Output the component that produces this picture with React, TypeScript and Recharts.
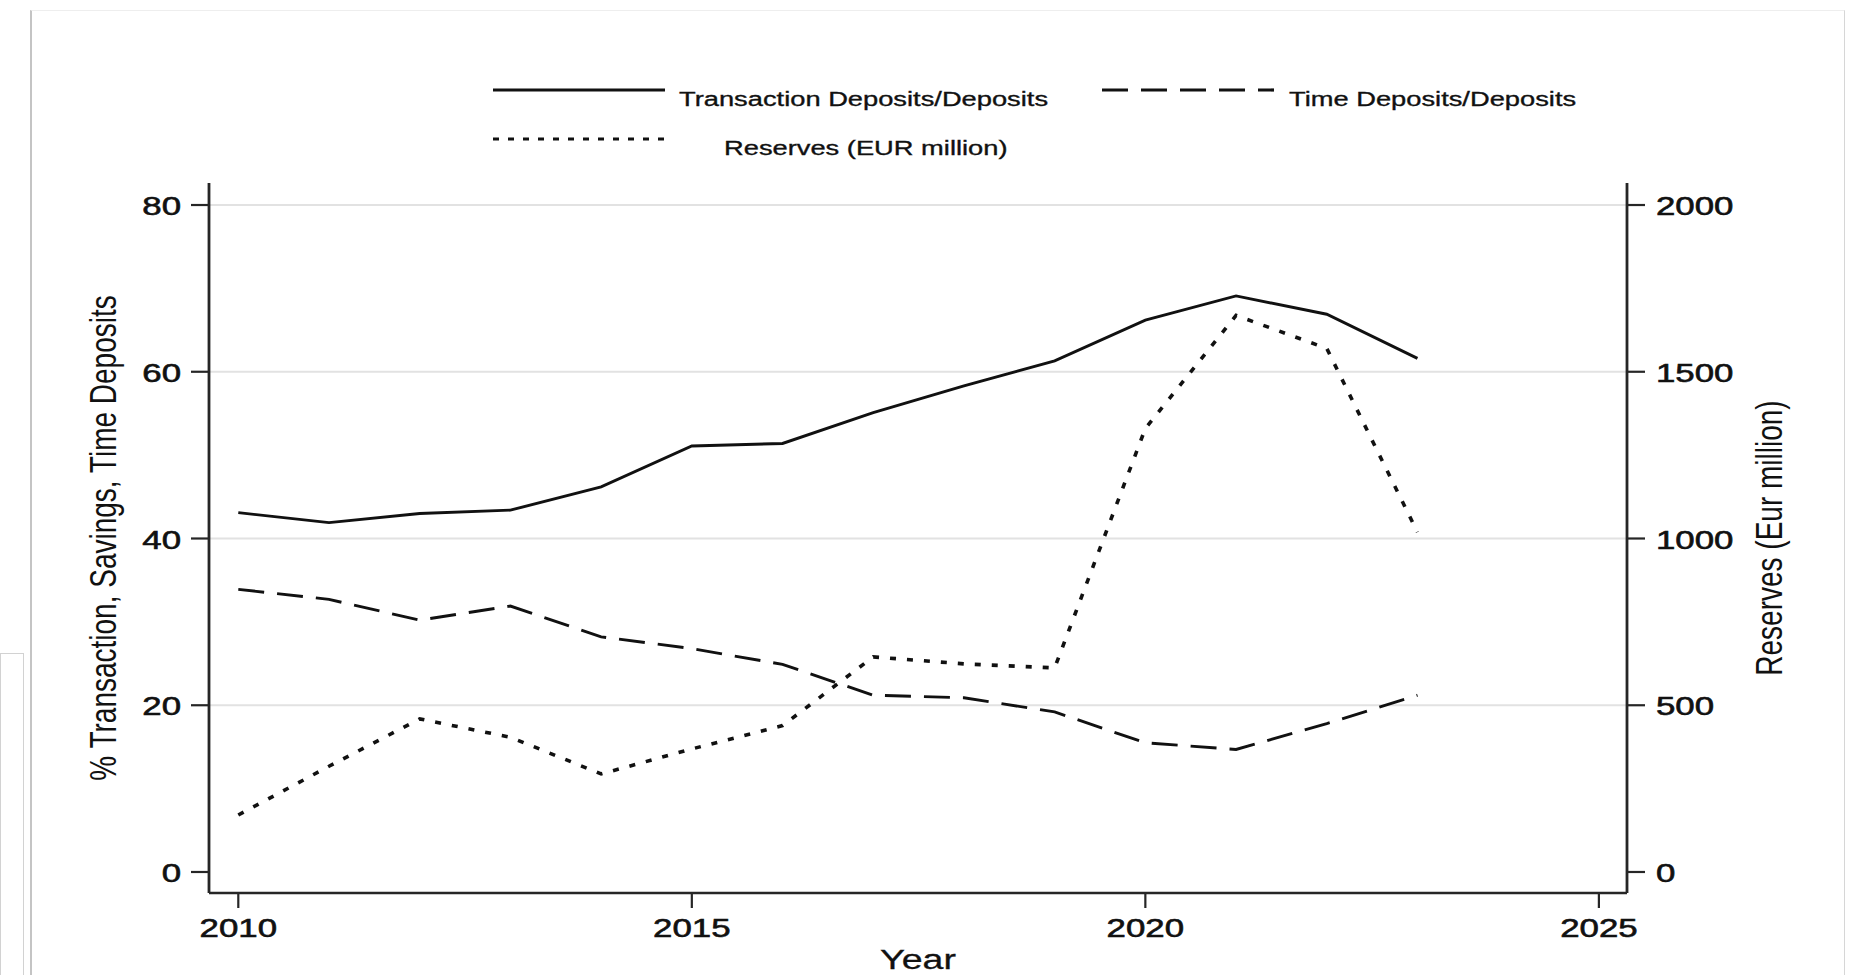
import React from 'react';
import { LineChart, Line, XAxis, YAxis, CartesianGrid, Legend } from 'recharts';

// ---- data -----------------------------------------------------------------
const years = [2010, 2011, 2012, 2013, 2014, 2015, 2016, 2017, 2018, 2019, 2020, 2021, 2022, 2023];
const transactionShare = [43.1, 41.9, 43.0, 43.4, 46.2, 51.1, 51.4, 55.1, 58.3, 61.3, 66.2, 69.1, 66.9, 61.6];
const timeShare = [33.9, 32.7, 30.2, 31.9, 28.2, 26.8, 24.9, 21.2, 20.9, 19.2, 15.5, 14.7, 17.8, 21.2];
const reservesEurMillion = [171, 317, 459, 404, 294, 369, 439, 645, 624, 612, 1330, 1669, 1570, 1019];

const shareTicks = [0, 20, 40, 60, 80];
const reserveTicks = [0, 500, 1000, 1500, 2000];
const yearTicks = [2010, 2015, 2020, 2025];
const shareGridValues = [20, 40, 60, 80];

const seriesNames = ['Transaction Deposits/Deposits', 'Time Deposits/Deposits', 'Reserves (EUR million)'];

const data = years.map((year, i) => ({
  year,
  transaction: transactionShare[i],
  time: timeShare[i],
  reserves: reservesEurMillion[i],
}));

// ---- layout / style --------------------------------------------------------
const W = 1858;
const H = 975;
const PLOT = { left: 209, top: 183, right: 1627, bottom: 893 };
const LEFT_AXIS_W = 100;
const RIGHT_AXIS_W = 170;
const X_AXIS_H = 60;

const FONT = '"Liberation Sans", Arial, Helvetica, sans-serif';
const INK = '#111111';
const AXIS = '#262626';
const STRETCH = 1.34; // wide horizontal lettering
const TICK_FONT = 26;

const series = [
  { key: 'transaction', name: seriesNames[0], axis: 'share', dash: undefined as string | undefined, keyDash: undefined as string | undefined, width: 2.9 },
  { key: 'time', name: seriesNames[1], axis: 'share', dash: '26 13', keyDash: '26 13', width: 2.9 },
  { key: 'reserves', name: seriesNames[2], axis: 'reserves', dash: '6 11', keyDash: '6 9', width: 3.6 },
];

// legend slots: key start, key row, text start
const legendSlots = [
  { x: 493, y: 90, textX: 679 },
  { x: 1102, y: 90, textX: 1289 },
  { x: 493, y: 139, textX: 724 },
];
const KEY_LEN = 172;

function WideText({ x, y, anchor, size, weight, children }: any) {
  return (
    <text
      transform={`translate(${x},${y}) scale(${STRETCH},1)`}
      textAnchor={anchor}
      fontSize={size}
      fontFamily={FONT}
      fill={INK}
      stroke={INK}
      strokeWidth={weight ?? 0}
    >
      {children}
    </text>
  );
}

function LeftTick(props: any) {
  const { x, y, payload } = props;
  return <WideText x={x} y={y + 10} anchor="end" size={TICK_FONT} weight={0.6}>{payload.value}</WideText>;
}

function RightTick(props: any) {
  const { x, y, payload } = props;
  return <WideText x={x} y={y + 10} anchor="start" size={TICK_FONT} weight={0.6}>{payload.value}</WideText>;
}

function BottomTick(props: any) {
  const { x, y, payload } = props;
  return <WideText x={x} y={y + 19} anchor="middle" size={TICK_FONT} weight={0.6}>{payload.value}</WideText>;
}

function RotatedTitle({ x, y, text }: any) {
  return (
    <text
      transform={`translate(${x},${y}) scale(${STRETCH},1) rotate(-90)`}
      textAnchor="middle"
      fontSize={28}
      fontFamily={FONT}
      fill={INK}
    >
      {text}
    </text>
  );
}

function ShareTitle(props: any) {
  const vb = props.viewBox || { x: PLOT.left - LEFT_AXIS_W, y: PLOT.top, width: LEFT_AXIS_W, height: PLOT.bottom - PLOT.top };
  return <RotatedTitle x={vb.x + 7} y={vb.y + vb.height / 2} text="% Transaction, Savings, Time Deposits" />;
}

function ReservesTitle(props: any) {
  const vb = props.viewBox || { x: PLOT.right, y: PLOT.top, width: RIGHT_AXIS_W, height: PLOT.bottom - PLOT.top };
  return <RotatedTitle x={vb.x + 155} y={vb.y + vb.height / 2} text="Reserves (Eur million)" />;
}

function YearTitle(props: any) {
  const vb = props.viewBox || { x: PLOT.left, y: PLOT.bottom, width: PLOT.right - PLOT.left, height: X_AXIS_H };
  return <WideText x={vb.x + vb.width / 2} y={vb.y + 76} anchor="middle" size={28} weight={0.3}>Year</WideText>;
}

function LegendBlock() {
  return (
    <svg width={W} height={180} style={{ display: 'block' }}>
      {series.map((s, i) => {
        const slot = legendSlots[i];
        return (
          <g key={s.key}>
            <line
              x1={slot.x}
              x2={slot.x + KEY_LEN}
              y1={slot.y}
              y2={slot.y}
              stroke={INK}
              strokeWidth={3.2}
              strokeDasharray={s.keyDash}
            />
            <text
              transform={`translate(${slot.textX},${slot.y + 16}) scale(1.3,1)`}
              fontSize={21}
              fontFamily={FONT}
              fill={INK}
              stroke={INK}
              strokeWidth={0.35}
            >
              {s.name}
            </text>
          </g>
        );
      })}
    </svg>
  );
}

export default function App() {
  return (
    <div style={{ position: 'absolute', left: 0, top: 0, width: W, height: H, background: '#ffffff', overflow: 'hidden' }}>
      {/* page frame */}
      <div
        style={{
          position: 'absolute',
          left: 30,
          top: 10,
          width: 1815,
          height: 1000,
          borderLeft: '2px solid #c4c4c4',
          borderTop: '1px solid #eeeeee',
          borderRight: '1px solid #d6d6d6',
          boxSizing: 'border-box',
        }}
      />
      <div
        style={{
          position: 'absolute',
          left: 0,
          top: 653,
          width: 24,
          height: 400,
          border: '1px solid #d2d2d2',
          boxSizing: 'border-box',
        }}
      />
      <div style={{ position: 'absolute', left: 0, top: 0 }}>
        <LineChart
          width={W}
          height={H}
          data={data}
          margin={{
            top: PLOT.top,
            left: PLOT.left - LEFT_AXIS_W,
            right: W - PLOT.right - RIGHT_AXIS_W,
            bottom: H - PLOT.bottom - X_AXIS_H,
          }}
        >
          <CartesianGrid
            yAxisId="share"
            horizontal
            vertical={false}
            horizontalValues={shareGridValues}
            stroke="#e2e2e2"
            strokeWidth={2}
          />
          <XAxis
            dataKey="year"
            type="number"
            domain={[2009.677, 2025.31]}
            allowDataOverflow
            ticks={yearTicks}
            interval={0}
            height={X_AXIS_H}
            tickSize={15}
            tickMargin={10}
            axisLine={{ stroke: AXIS, strokeWidth: 2.6 }}
            tickLine={{ stroke: AXIS, strokeWidth: 2.2 }}
            tick={<BottomTick />}
            label={<YearTitle />}
          />
          <YAxis
            yAxisId="share"
            orientation="left"
            type="number"
            domain={[-2.52, 82.64]}
            allowDataOverflow
            ticks={shareTicks}
            interval={0}
            width={LEFT_AXIS_W}
            tickSize={18}
            tickMargin={10}
            axisLine={{ stroke: AXIS, strokeWidth: 2.8 }}
            tickLine={{ stroke: AXIS, strokeWidth: 2.2 }}
            tick={<LeftTick />}
            label={<ShareTitle />}
          />
          <YAxis
            yAxisId="reserves"
            orientation="right"
            type="number"
            domain={[-63, 2066]}
            allowDataOverflow
            ticks={reserveTicks}
            interval={0}
            width={RIGHT_AXIS_W}
            tickSize={18}
            tickMargin={11}
            axisLine={{ stroke: AXIS, strokeWidth: 2.8 }}
            tickLine={{ stroke: AXIS, strokeWidth: 2.2 }}
            tick={<RightTick />}
            label={<ReservesTitle />}
          />
          <Legend
            layout="horizontal"
            verticalAlign="middle"
            align="center"
            content={<LegendBlock />}
            wrapperStyle={{ position: 'absolute', left: 0, top: 0, width: W, height: 180, margin: 0 }}
          />
          {series.map((s) => (
            <Line
              key={s.key}
              yAxisId={s.axis}
              type="linear"
              dataKey={s.key}
              name={s.name}
              stroke={INK}
              strokeWidth={s.width}
              strokeDasharray={s.dash}
              dot={false}
              activeDot={false}
              isAnimationActive={false}
            />
          ))}
        </LineChart>
      </div>
    </div>
  );
}
